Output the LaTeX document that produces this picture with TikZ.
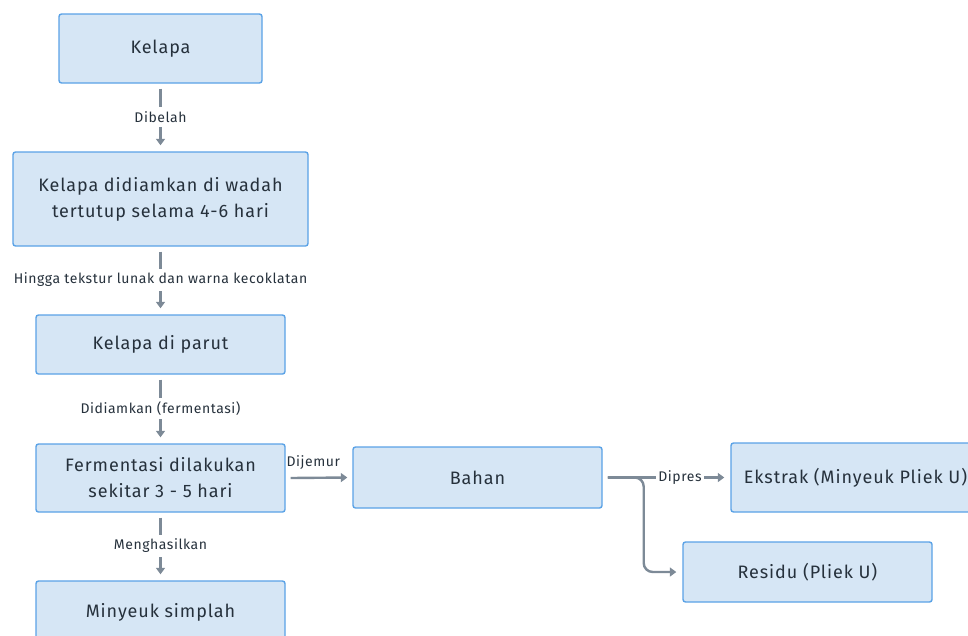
\documentclass[tikz,border=0pt]{standalone}
\usepackage{fontspec}
\setmainfont{Fira Sans}
\newfontfamily\boxfont{Fira Sans}[LetterSpace=5]
\newfontfamily\lblfont{Fira Sans}[LetterSpace=4]
\usetikzlibrary{arrows.meta}
\definecolor{boxfill}{HTML}{D6E6F5}
\definecolor{boxline}{HTML}{5AA2E6}
\definecolor{txt}{HTML}{26313C}
\definecolor{arrc}{HTML}{7D8A97}
\begin{document}
\begin{tikzpicture}[x=1pt,y=-1pt,
  box/.style={draw=boxline, line width=1.4pt, fill=boxfill, rounded corners=2.5pt,
    text=txt, font=\boxfont\fontsize{18}{26}\selectfont, align=center, inner sep=0pt},
  arr/.style={draw=arrc, line width=2.4pt, -{Triangle[width=9pt,length=6.5pt]}},
  lbl/.style={fill=white, text=txt, font=\lblfont\fontsize{14}{15}\selectfont, inner xsep=1.5pt, inner ysep=4pt}]
\useasboundingbox (0,0) rectangle (968,635);
\clip (0,0) rectangle (968,635);
% boxes
\node[box, minimum width=203pt, minimum height=69pt] (k) at (160.5,48.5) {Kelapa};
\node[box, minimum width=295pt, minimum height=94pt] (d) at (160.5,199) {Kelapa didiamkan di wadah\\tertutup selama 4-6 hari};
\node[box, minimum width=249pt, minimum height=59pt] (p) at (160.5,344.5) {Kelapa di parut};
\node[box, minimum width=249pt, minimum height=68pt] (f) at (160.5,478) {Fermentasi dilakukan\\sekitar 3 - 5 hari};
\node[box, minimum width=249pt, minimum height=62pt] (m) at (160.5,612) {Minyeuk simplah};
\node[box, minimum width=249pt, minimum height=61pt] (b) at (477.5,477.5) {Bahan};
\node[box, minimum width=249pt, minimum height=69pt] (e) at (855.5,477.5) {Ekstrak (Minyeuk Pliek U)};
\node[box, minimum width=249pt, minimum height=60pt] (r) at (807.5,572) {Residu (Pliek U)};
% vertical connectors
\draw[arr] ([yshift=-5pt]k.south) -- node[lbl] {Dibelah} ([yshift=6pt]d.north);
\draw[arr] ([yshift=-5pt]d.south) -- node[lbl] {Hingga tekstur lunak dan warna kecoklatan} ([yshift=6pt]p.north);
\draw[arr] ([yshift=-5pt]p.south) -- node[lbl] {Didiamkan (fermentasi)} ([yshift=6pt]f.north);
\draw[arr] ([yshift=-5pt]f.south) -- node[lbl] {Menghasilkan} ([yshift=6pt]m.north);
% horizontal connectors
\draw[arr] ([xshift=5pt]f.east) -- node[lbl, fill=none, above, yshift=3pt, pos=0.4] {Dijemur} ([xshift=-5pt]b.west);
\draw[arr, rounded corners=9pt] ([xshift=5pt]b.east) -- ++(36,0) |- ([xshift=-6pt]r.west);
\draw[arr] ([xshift=5pt]b.east) -- node[lbl, pos=0.62, inner xsep=2pt] {Dipres} ([xshift=-6pt]e.west);
\end{tikzpicture}
\end{document}
